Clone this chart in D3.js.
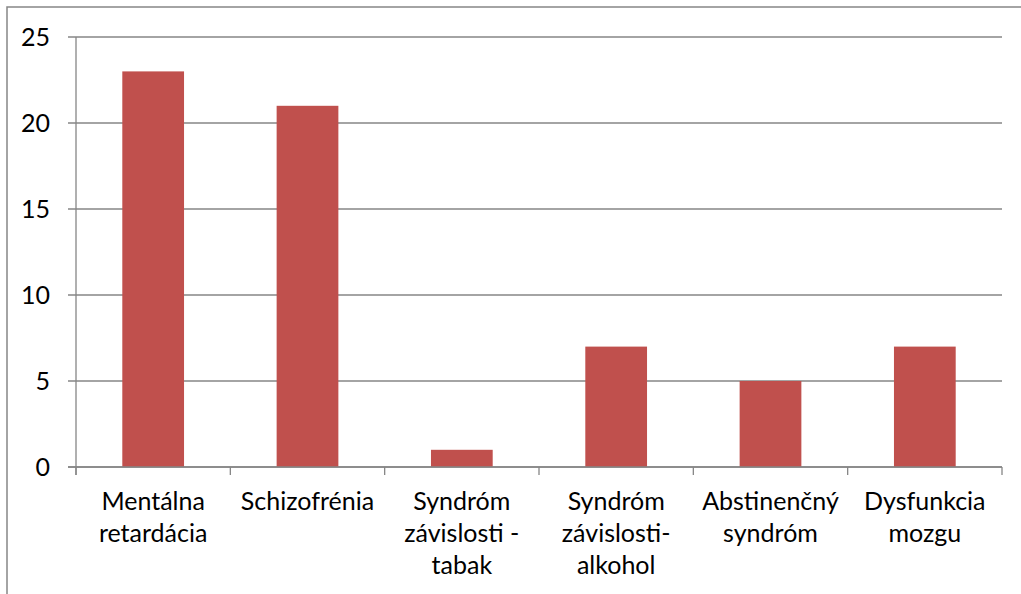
<!DOCTYPE html>
<html><head><meta charset="utf-8">
<script src="https://cdn.jsdelivr.net/npm/d3@7"></script>
<style>body{margin:0;background:#fff}svg{display:block}text{font-family:Lato,"Open Sans",sans-serif;fill:#000}</style>
</head><body><svg id="c" width="1021" height="594"></svg>
<script>
const categories = ["Mentálna retardácia","Schizofrénia","Syndróm závislosti - tabak","Syndróm závislosti- alkohol","Abstinenčný syndróm","Dysfunkcia mozgu"];
const labelLines = [["Mentálna","retardácia"],["Schizofrénia"],["Syndróm","závislosti -","tabak"],["Syndróm","závislosti-","alkohol"],["Abstinenčný","syndróm"],["Dysfunkcia","mozgu"]];
const values = [23,21,1,7,5,7];
const yTicks = [0,5,10,15,20,25];

const svg = d3.select("#c");
const grid = "#868686", fs = 25;
svg.append("rect").attr("x",7).attr("y",7).attr("width",1030).attr("height",600)
  .attr("fill","none").attr("stroke",grid).attr("stroke-width",1.5);

const L=76, R=1002, T=37, B=467;
const x = d3.scaleBand().domain(categories).range([L,R]).padding(0);
const y = d3.scaleLinear().domain([0,25]).range([B,T]);

// gridlines + y ticks
svg.append("g").selectAll("line").data(yTicks).join("line")
  .attr("x1",L-8).attr("x2",R).attr("y1",d=>y(d)).attr("y2",d=>y(d))
  .attr("stroke",grid).attr("stroke-width",1.3);
svg.append("g").selectAll("text").data(yTicks).join("text")
  .attr("x",50).attr("y",d=>y(d)).attr("dy","0.36em").attr("text-anchor","end")
  .attr("font-size",fs).text(d=>d);

// bars
const bw = x.bandwidth()*0.4;
svg.append("g").selectAll("rect").data(values).join("rect")
  .attr("x",(d,i)=>x(categories[i])+x.bandwidth()/2-bw/2)
  .attr("width",bw)
  .attr("y",d=>y(d)).attr("height",d=>y(0)-y(d))
  .attr("fill","#C0504D");

// axes lines
svg.append("line").attr("x1",L).attr("x2",L).attr("y1",T).attr("y2",B+8).attr("stroke",grid).attr("stroke-width",1.3);
svg.append("line").attr("x1",L-8).attr("x2",R).attr("y1",B).attr("y2",B).attr("stroke",grid).attr("stroke-width",1.3);
const bounds = categories.map(c=>x(c)).concat([R]);
svg.append("g").selectAll("line").data(bounds).join("line")
  .attr("x1",d=>d).attr("x2",d=>d).attr("y1",B).attr("y2",B+8)
  .attr("stroke",grid).attr("stroke-width",1.3);

// category labels
const lab = svg.append("g").selectAll("text").data(categories).join("text")
  .attr("text-anchor","middle").attr("font-size",fs)
  .attr("x",d=>x(d)+x.bandwidth()/2).attr("y",510);
lab.each(function(d,i){
  d3.select(this).selectAll("tspan").data(labelLines[i]).join("tspan")
    .attr("x",x(d)+x.bandwidth()/2).attr("dy",(t,j)=>j===0?0:32).text(t=>t);
});
</script></body></html>
